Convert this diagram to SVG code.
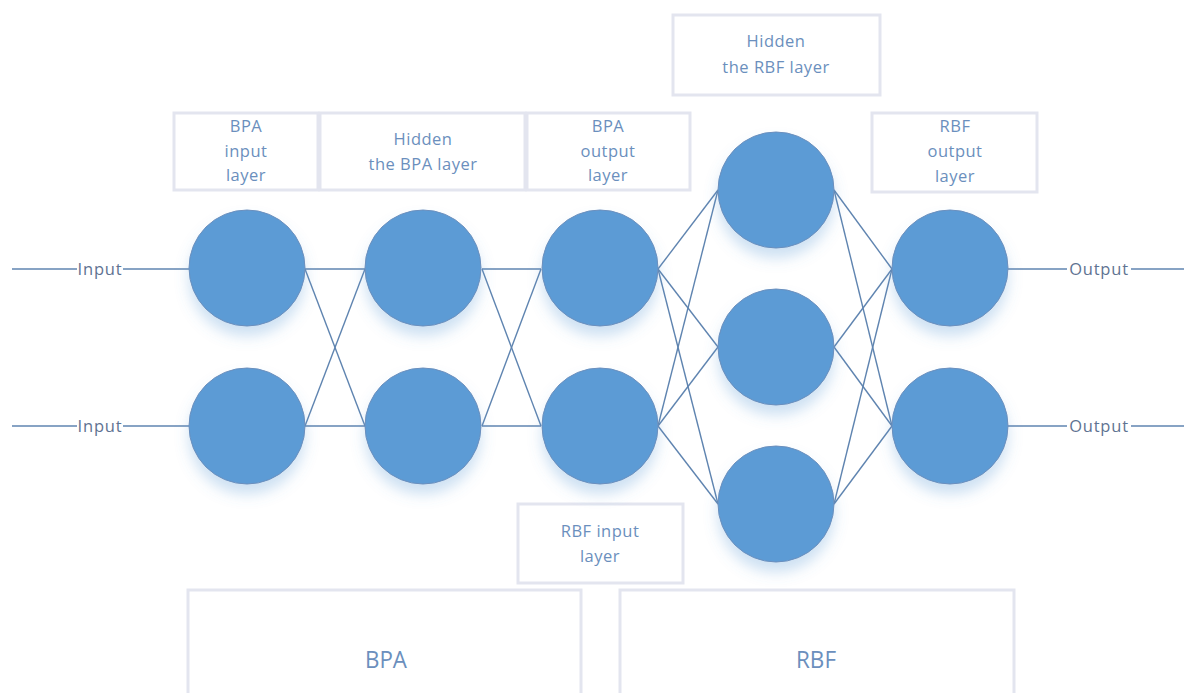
<svg xmlns="http://www.w3.org/2000/svg" width="1185" height="693" viewBox="0 0 1185 693">
  <defs>
    <filter id="soft" x="-40%" y="-40%" width="180%" height="200%">
      <feDropShadow dx="0" dy="10" stdDeviation="7" flood-color="#5b9bd5" flood-opacity="0.3"/>
    </filter>
    <style>
      .box { fill: #ffffff; stroke: #e3e5ef; stroke-width: 3; }
      .lbl { font-family: "Open Sans", "Noto Sans", sans-serif; font-size: 16.5px; letter-spacing: 0.5px; fill: #6b8fbd; text-anchor: middle; }
      .big { font-family: "Open Sans", "Noto Sans", sans-serif; font-size: 23px; fill: #6b8fbd; text-anchor: middle; }
      .io { font-family: "Open Sans", "Noto Sans", sans-serif; font-size: 16.5px; letter-spacing: 0.8px; fill: #5f7392; text-anchor: middle; }
      .node { fill: #5b9bd5; stroke: #6b8fbd; stroke-width: 1; filter: url(#soft); }
      .wire { stroke: #5f84b0; stroke-width: 1.4; fill: none; }
    </style>
  </defs>
  <rect width="1185" height="693" fill="#ffffff"/>

  <!-- layer caption boxes -->
  <g id="cap-bpa-input">
    <rect class="box" x="174" y="113" width="144" height="77"/>
    <text class="lbl" x="246" y="132">BPA</text>
    <text class="lbl" x="246" y="157">input</text>
    <text class="lbl" x="246" y="181">layer</text>
  </g>
  <g id="cap-bpa-hidden">
    <rect class="box" x="320" y="113" width="205" height="77"/>
    <text class="lbl" x="423" y="145">Hidden</text>
    <text class="lbl" x="423" y="170">the BPA layer</text>
  </g>
  <g id="cap-bpa-output">
    <rect class="box" x="527" y="113" width="163" height="77"/>
    <text class="lbl" x="608" y="132">BPA</text>
    <text class="lbl" x="608" y="157">output</text>
    <text class="lbl" x="608" y="181">layer</text>
  </g>
  <g id="cap-rbf-hidden">
    <rect class="box" x="673" y="15" width="207" height="80"/>
    <text class="lbl" x="776" y="47">Hidden</text>
    <text class="lbl" x="776" y="73">the RBF layer</text>
  </g>
  <g id="cap-rbf-output">
    <rect class="box" x="872" y="113" width="165" height="79"/>
    <text class="lbl" x="955" y="132">RBF</text>
    <text class="lbl" x="955" y="157">output</text>
    <text class="lbl" x="955" y="182">layer</text>
  </g>
  <g id="cap-rbf-input">
    <rect class="box" x="518" y="504" width="165" height="79"/>
    <text class="lbl" x="600" y="537">RBF input</text>
    <text class="lbl" x="600" y="562">layer</text>
  </g>
  <g id="cap-bpa">
    <rect class="box" x="188" y="590" width="393" height="110"/>
    <text class="big" x="386" y="668" textLength="42" lengthAdjust="spacingAndGlyphs">BPA</text>
  </g>
  <g id="cap-rbf">
    <rect class="box" x="620" y="590" width="394" height="110"/>
    <text class="big" x="816" y="668" textLength="40" lengthAdjust="spacingAndGlyphs">RBF</text>
  </g>

  <!-- connectors -->
  <g id="connectors" class="wire">
    <!-- inputs -->
    <line x1="12" y1="269" x2="77" y2="269"/>
    <line x1="123" y1="269" x2="189" y2="269"/>
    <line x1="12" y1="426" x2="77" y2="426"/>
    <line x1="123" y1="426" x2="189" y2="426"/>
    <!-- BPA input -> hidden -->
    <line x1="305" y1="269" x2="365" y2="269"/>
    <line x1="305" y1="269" x2="365" y2="426"/>
    <line x1="305" y1="426" x2="365" y2="269"/>
    <line x1="305" y1="426" x2="365" y2="426"/>
    <!-- hidden -> BPA output -->
    <line x1="482" y1="269" x2="541" y2="269"/>
    <line x1="482" y1="269" x2="541" y2="426"/>
    <line x1="482" y1="426" x2="541" y2="269"/>
    <line x1="482" y1="426" x2="541" y2="426"/>
    <!-- RBF input -> RBF hidden -->
    <line x1="658" y1="269" x2="718" y2="190"/>
    <line x1="658" y1="269" x2="718" y2="347"/>
    <line x1="658" y1="269" x2="718" y2="504"/>
    <line x1="658" y1="426" x2="718" y2="190"/>
    <line x1="658" y1="426" x2="718" y2="347"/>
    <line x1="658" y1="426" x2="718" y2="504"/>
    <!-- RBF hidden -> RBF output -->
    <line x1="834" y1="190" x2="892" y2="269"/>
    <line x1="834" y1="190" x2="892" y2="426"/>
    <line x1="834" y1="347" x2="892" y2="269"/>
    <line x1="834" y1="347" x2="892" y2="426"/>
    <line x1="834" y1="504" x2="892" y2="269"/>
    <line x1="834" y1="504" x2="892" y2="426"/>
    <!-- outputs -->
    <line x1="1008" y1="269" x2="1067" y2="269"/>
    <line x1="1131" y1="269" x2="1184" y2="269"/>
    <line x1="1008" y1="426" x2="1067" y2="426"/>
    <line x1="1131" y1="426" x2="1184" y2="426"/>
  </g>
  <g id="io-labels">
    <text class="io" x="100" y="275">Input</text>
    <text class="io" x="100" y="432">Input</text>
    <text class="io" x="1099" y="275">Output</text>
    <text class="io" x="1099" y="432">Output</text>
  </g>

  <!-- neurons -->
  <g id="n-bpa-in-1"><circle class="node" cx="247" cy="268" r="58"/></g>
  <g id="n-bpa-in-2"><circle class="node" cx="247" cy="426" r="58"/></g>
  <g id="n-bpa-hid-1"><circle class="node" cx="423" cy="268" r="58"/></g>
  <g id="n-bpa-hid-2"><circle class="node" cx="423" cy="426" r="58"/></g>
  <g id="n-bpa-out-1"><circle class="node" cx="600" cy="268" r="58"/></g>
  <g id="n-bpa-out-2"><circle class="node" cx="600" cy="426" r="58"/></g>
  <g id="n-rbf-hid-1"><circle class="node" cx="776" cy="190" r="58"/></g>
  <g id="n-rbf-hid-2"><circle class="node" cx="776" cy="347" r="58"/></g>
  <g id="n-rbf-hid-3"><circle class="node" cx="776" cy="504" r="58"/></g>
  <g id="n-rbf-out-1"><circle class="node" cx="950" cy="268" r="58"/></g>
  <g id="n-rbf-out-2"><circle class="node" cx="950" cy="426" r="58"/></g>
</svg>
